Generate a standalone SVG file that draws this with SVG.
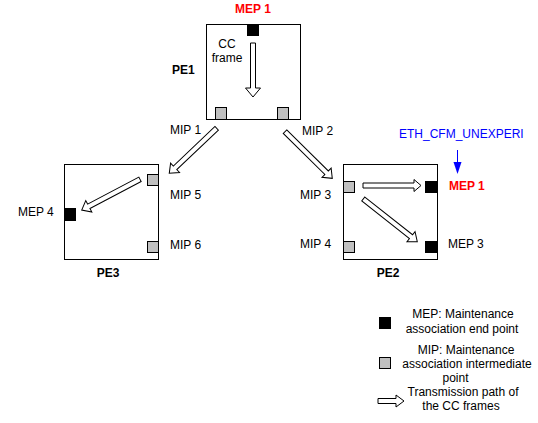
<svg xmlns="http://www.w3.org/2000/svg" width="538" height="423" viewBox="0 0 538 423">
<style>
text{font-family:"Liberation Sans",Arial,sans-serif;font-size:12px;fill:#000}
.b{font-weight:bold}
.red{fill:#FF0000;font-weight:bold}
.blue{fill:#0000FF}
.m{text-anchor:middle}
.box{fill:#fff;stroke:#000;stroke-width:1}
.mep{fill:#000;stroke:#000;stroke-width:1}
.mip{fill:#C0C0C0;stroke:#000;stroke-width:1}
.arr{fill:#fff;stroke:#000;stroke-width:1}
</style>
<rect width="538" height="423" fill="#fff"/>
<g id="PE1">
<rect class="box" x="206.5" y="24.5" width="94" height="95"/>
<rect class="mep" x="247.5" y="24.5" width="11" height="11"/>
<rect class="mip" x="215.5" y="107.5" width="11" height="12"/>
<rect class="mip" x="277.5" y="107.5" width="11" height="12"/>
<text class="red m" x="253" y="13">MEP 1</text>
<text class="m" x="227" y="48">CC</text>
<text class="m" x="227" y="62">frame</text>
<text class="b" x="172" y="74">PE1</text>
<text x="170" y="134">MIP 1</text>
<text x="302" y="135">MIP 2</text>
</g>
<g id="PE3">
<rect class="box" x="64.5" y="164.5" width="94" height="95"/>
<rect class="mip" x="147.5" y="174.5" width="11" height="11"/>
<rect class="mip" x="147.5" y="241.5" width="11" height="11"/>
<rect class="mep" x="64.5" y="208.5" width="11" height="12"/>
<text x="170" y="199">MIP 5</text>
<text x="170" y="249">MIP 6</text>
<text x="18" y="216">MEP 4</text>
<text class="b m" x="108" y="277">PE3</text>
</g>
<g id="PE2">
<rect class="box" x="343.5" y="164.5" width="94" height="95"/>
<rect class="mip" x="343.5" y="181.5" width="11" height="11"/>
<rect class="mip" x="343.5" y="241.5" width="11" height="11"/>
<rect class="mep" x="425.5" y="181.5" width="11" height="11"/>
<rect class="mep" x="425.5" y="241.5" width="11" height="11"/>
<text x="300" y="199">MIP 3</text>
<text x="300" y="248">MIP 4</text>
<text class="red" x="449" y="190">MEP 1</text>
<text x="448" y="248">MEP 3</text>
<text class="b m" x="388" y="277">PE2</text>
</g>
<g id="alarm">
<text class="blue" x="399" y="138">ETH_CFM_UNEXPERI</text>
<line x1="457.5" y1="150" x2="457.5" y2="164" stroke="#0000FF" stroke-width="1"/>
<polygon points="453.5,162 461.5,162 457.5,174" fill="#0000FF"/>
</g>
<g id="connectors">
<polygon class="arr" points="250.5,43 255.5,43 255.5,88 260.5,88 253,97 245.5,88 250.5,88"/>
<polygon class="arr" transform="translate(216.7,128.3) rotate(136.5)" points="0,-2.5 57.4,-2.5 57.4,-6.5 65.4,0 57.4,6.5 57.4,2.5 0,2.5"/>
<polygon class="arr" transform="translate(140,179.3) rotate(152.2)" points="0,-2.5 57.9,-2.5 57.9,-6.5 65.9,0 57.9,6.5 57.9,2.5 0,2.5"/>
<polygon class="arr" transform="translate(285,131.7) rotate(44.6)" points="0,-2.5 58.4,-2.5 58.4,-6.5 66.4,0 58.4,6.5 58.4,2.5 0,2.5"/>
<polygon class="arr" transform="translate(363,185.5)" points="0,-2.5 51,-2.5 51,-6 58,0 51,6 51,2.5 0,2.5"/>
<polygon class="arr" transform="translate(363.3,199) rotate(38.3)" points="0,-2.5 60.8,-2.5 60.8,-6.5 68.8,0 60.8,6.5 60.8,2.5 0,2.5"/>
</g>
<g id="legend">
<rect class="mep" x="379.5" y="317.5" width="11" height="11"/>
<text class="m" x="463" y="318">MEP: Maintenance</text>
<text class="m" x="462" y="333">association end point</text>
<rect class="mip" x="379.5" y="357.5" width="11" height="11"/>
<text class="m" x="466" y="354">MIP: Maintenance</text>
<text class="m" x="467" y="368">association intermediate</text>
<text class="m" x="455.5" y="382">point</text>
<polygon class="arr" transform="translate(378,401)" points="0,-2.5 18,-2.5 18,-6 26,0 18,6 18,2.5 0,2.5"/>
<text class="m" x="463" y="396">Transmission path of</text>
<text class="m" x="461" y="410">the CC frames</text>
</g>
</svg>
